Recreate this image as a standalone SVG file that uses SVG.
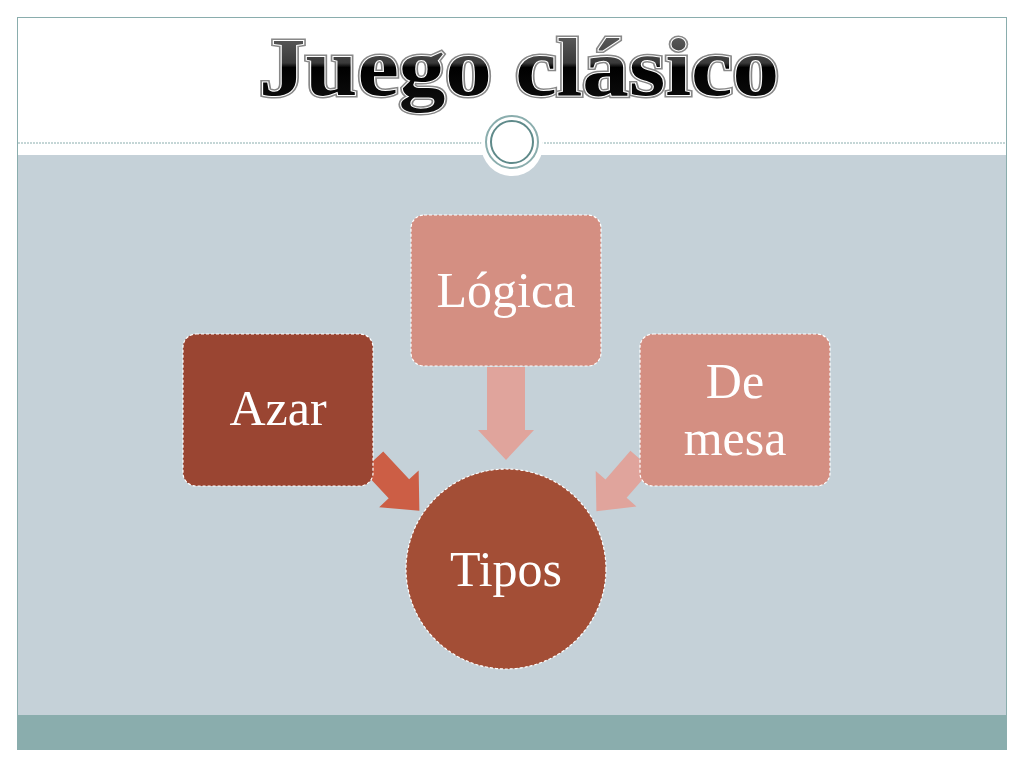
<svg xmlns="http://www.w3.org/2000/svg" width="1024" height="768" viewBox="0 0 1024 768">
<defs>
<linearGradient id="tg" x1="0" y1="0" x2="0" y2="1"><stop offset="0" stop-color="#6a6a6a"/><stop offset="0.45" stop-color="#3a3a3a"/><stop offset="0.5" stop-color="#000"/><stop offset="1" stop-color="#111"/></linearGradient>
<style>
.box{stroke:#fff;stroke-width:1.2;stroke-dasharray:3 2}
.lbl{font-family:"Liberation Serif","DejaVu Serif",serif;fill:#fff;text-anchor:middle;font-size:50px}
</style>
</defs>
<rect width="1024" height="768" fill="#fff"/>
<rect x="17" y="155" width="990" height="560" fill="#C5D1D8"/>
<rect x="17" y="715" width="990" height="35" fill="#8AADAD"/>
<rect x="17.5" y="17.5" width="989" height="732" fill="none" stroke="#8AADAD" stroke-width="1"/>
<line x1="18" y1="143" x2="484" y2="143" stroke="#8AADAD" stroke-width="1" stroke-dasharray="2 1"/>
<line x1="541" y1="143" x2="1006" y2="143" stroke="#8AADAD" stroke-width="1" stroke-dasharray="2 1"/>
<circle cx="512" cy="145" r="31" fill="#fff"/>
<circle cx="512" cy="142" r="26" fill="#fff" stroke="#8AADAD" stroke-width="2"/>
<circle cx="512" cy="142" r="21" fill="none" stroke="#5f8a8a" stroke-width="2"/>
<text x="519" y="95" text-anchor="middle" font-family="Liberation Serif,serif" font-weight="bold" font-size="82" fill="url(#tg)" stroke="#888" stroke-width="5" paint-order="stroke" textLength="520" lengthAdjust="spacingAndGlyphs">Juego clásico</text>
<text x="519" y="95" text-anchor="middle" font-family="Liberation Serif,serif" font-weight="bold" font-size="82" fill="url(#tg)" stroke="#fff" stroke-width="2" paint-order="stroke" textLength="520" lengthAdjust="spacingAndGlyphs">Juego clásico</text>
<g id="connectors">
<polygon transform="translate(373,461) rotate(47)" points="0,-14 38,-14 38,-27 68,0 38,27 38,14 0,14" fill="#CC5E45"/>
<polygon transform="translate(506,367) rotate(90)" points="0,-19 63,-19 63,-28 93,0 63,28 63,19 0,19" fill="#E0A49C"/>
<polygon transform="translate(641,460) rotate(131)" points="0,-14 38,-14 38,-27 68,0 38,27 38,14 0,14" fill="#E0A49C"/>
</g>
<g id="tipos"><circle cx="506" cy="569" r="100" fill="#A34E36" class="box"/><text x="506" y="586" class="lbl">Tipos</text></g>
<g id="azar"><rect x="183" y="334" width="190" height="152" rx="13" fill="#9A4532" class="box"/><text x="278" y="425" class="lbl">Azar</text></g>
<g id="logica"><rect x="411" y="215" width="190" height="151" rx="13" fill="#D48F82" class="box"/><text x="506" y="307" class="lbl">Lógica</text></g>
<g id="demesa"><rect x="640" y="334" width="190" height="152" rx="13" fill="#D48F82" class="box"/><text x="735" y="398" class="lbl">De</text><text x="735" y="455" class="lbl">mesa</text></g>
</svg>
